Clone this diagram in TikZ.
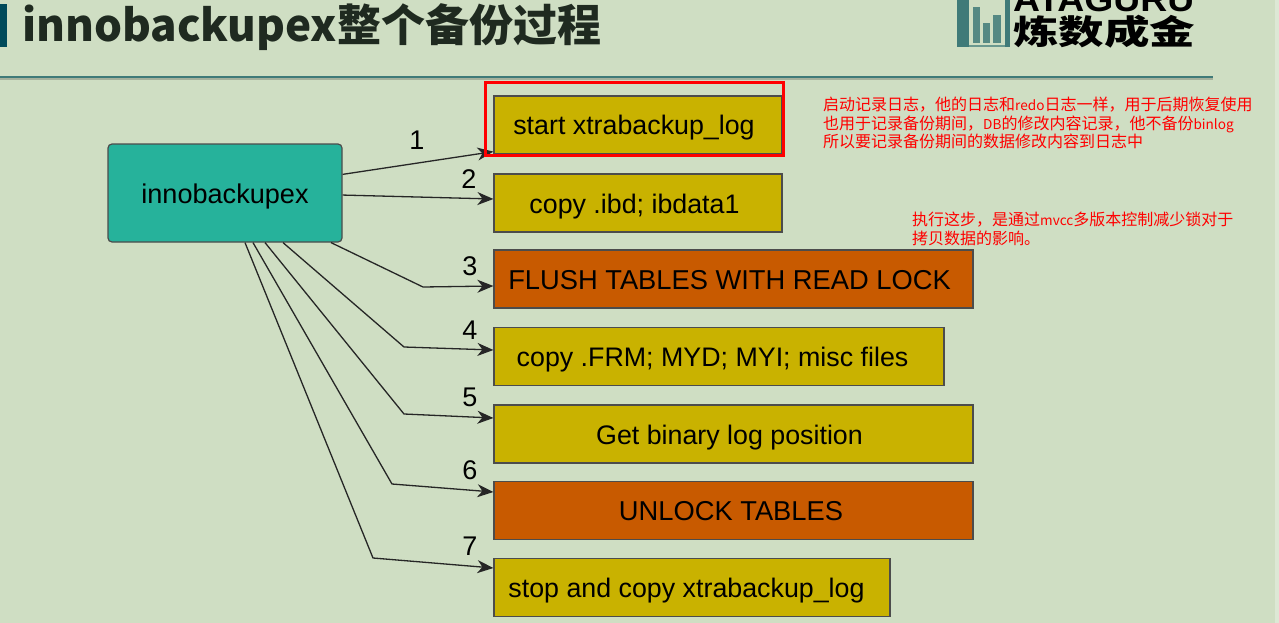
\documentclass[tikz,border=0pt]{standalone}
\usepackage{fontspec}
\setmainfont{Liberation Sans}
\newfontfamily\cjk{Noto Sans CJK SC}
\usetikzlibrary{
    arrows.meta,
    calc,
    positioning
}
\definecolor{slidebg}{HTML}{CFDEC3}
\definecolor{slideink}{HTML}{1F2A20}
\definecolor{ruleteal}{HTML}{3F7A78}
\definecolor{cornerteal}{HTML}{004A5A}
\definecolor{mainteal}{HTML}{26B29B}
\definecolor{yellowbox}{HTML}{C9B200}
\definecolor{orangebox}{HTML}{C85A00}
\newcommand{\latinbit}[1]{{\fontsize{13.6}{18.5}\selectfont #1}}
\tikzset{
    stepbox/.style={draw=black!70, line width=1.2pt, minimum height=58pt, inner sep=0pt,
        text height=24pt, text depth=4pt},
    yellowstep/.style={stepbox, fill=yellowbox, font=\fontsize{26.8}{30}\selectfont},
    orangestep/.style={stepbox, fill=orangebox, font=\fontsize{27.3}{30}\selectfont},
    numlabel/.style={font=\fontsize{27}{30}\selectfont, inner sep=0pt},
    note/.style={text=red, align=left, anchor=north west, inner sep=0pt,
        font=\cjk\fontsize{16}{18.5}\selectfont},
    link/.style={-{Stealth[length=16pt,width=13pt,inset=5pt]}, line width=1.3pt, black!85}
}

\begin{document}
\begin{tikzpicture}[x=1pt, y=-1pt]
    \useasboundingbox (0, 0) rectangle (1279, 623);
    \fill[slidebg] (0, 0) rectangle (1279, 623);
    \fill[slidebg!70!white] (1275, 0) rectangle (1279, 623);

    % title bar
    \fill[cornerteal] (0, 4) rectangle (7, 47);
    \node[anchor=west, inner sep=0pt, text=slideink, font=\cjk\bfseries\fontsize{44}{50}\selectfont] (title) at (22, 27) {innobackupex整个备份过程};
    \fill[black!20!slidebg] (0, 78) rectangle (1213, 80);
    \fill[ruleteal] (0, 76) rectangle (1213, 78);

    % logo
    \fill[ruleteal] (957, 0) rectangle (969, 47);
    \fill[ruleteal!85!slidebg] (973, 7) rectangle (980, 43);
    \fill[ruleteal!85!slidebg] (983, 23) rectangle (990, 43);
    \fill[ruleteal!85!slidebg] (993, 15) rectangle (1001, 43);
    \fill[ruleteal] (1005, 0) rectangle (1010, 47);
    \fill[ruleteal!70!slidebg] (969, 45) rectangle (1005, 47);
    \node[anchor=south west, inner sep=0pt, font=\bfseries] (logotop) at (1013, 12) {\resizebox{181pt}{24pt}{ATAGURU}};
    \node[anchor=west, inner sep=0pt, font=\cjk\bfseries\fontsize{45.5}{45.5}\selectfont] (logobot) at (1013, 31.5) {\scalebox{1}[0.74]{炼数成金}};

    % boxes
    \node[rectangle, rounded corners=4pt, draw=black!70, line width=1.2pt, fill=mainteal,
        minimum width=234pt, minimum height=98pt, text height=24pt, text depth=4pt,
        font=\fontsize{27.1}{30}\selectfont] (mainbox) at (225, 193) {innobackupex};

    \node[yellowstep, minimum width=288pt] (startlog) at (638, 125) {start xtrabackup\_log\kern8pt};
    \node[yellowstep, minimum width=288pt] (copyibd) at (638, 203) {copy .ibd; ibdata1\kern7pt};
    \node[orangestep, minimum width=479pt] (flush) at (733.5, 279) {FLUSH TABLES WITH READ LOCK\kern8pt};
    \node[yellowstep, minimum width=450pt] (copyfrm) at (719, 356.5) {copy .FRM; MYD; MYI; misc files\kern13pt};
    \node[yellowstep, minimum width=479pt] (binlog) at (733.5, 434) {Get binary log position\kern8pt};
    \node[orangestep, minimum width=479pt] (unlock) at (733.5, 510.5) {UNLOCK TABLES\kern5pt};
    \node[yellowstep, minimum width=396pt] (stopcopy) at (692, 587.5) {stop and copy xtrabackup\_log\kern11pt};

    % bends
    \coordinate (bendflush) at (423, 287);
    \coordinate (bendfrm) at (404, 347);
    \coordinate (bendlog) at (404, 414);
    \coordinate (bendunlock) at (392, 484);
    \coordinate (bendstop) at (373, 558);

    % connectors
    \draw[link] (mainbox.9.7) -- ([yshift=3pt]startlog.south west);
    \draw[link] (mainbox.-1.5) -- ([yshift=4pt]copyibd.west);
    \draw[link] ([xshift=106pt]mainbox.south) -- (bendflush) -- ([yshift=-7pt]flush.west);
    \draw[link] ([xshift=58pt]mainbox.south) -- (bendfrm) -- ([yshift=6.5pt]copyfrm.west);
    \draw[link] ([xshift=40pt]mainbox.south) -- (bendlog) -- ([yshift=16pt]binlog.west);
    \draw[link] ([xshift=28pt]mainbox.south) -- (bendunlock) -- ([yshift=18.5pt]unlock.west);
    \draw[link] ([xshift=20pt]mainbox.south) -- (bendstop) -- ([yshift=19.5pt]stopcopy.west);

    \node[numlabel] (numone) at (417, 140) {1};
    \node[numlabel] (numtwo) at (469, 179) {2};
    \node[numlabel] (numthree) at (470, 266) {3};
    \node[numlabel] (numfour) at (470, 330) {4};
    \node[numlabel] (numfive) at (470, 397) {5};
    \node[numlabel] (numsix) at (470, 470) {6};
    \node[numlabel] (numseven) at (470, 546) {7};

    % highlight
    \draw[red, line width=3pt] (485, 83) rectangle (783, 155);

    % notes
    \node[note] (noteone) at (823, 97) {启动记录日志，他的日志和\latinbit{redo}日志一样，用于后期恢复使用\\也用于记录备份期间，\latinbit{DB}的修改内容记录，他不备份\latinbit{binlog}\\所以要记录备份期间的数据修改内容到日志中};
    \node[note] (notetwo) at (912, 212) {执行这步，是通过\latinbit{mvcc}多版本控制减少锁对于\\拷贝数据的影响。};
\end{tikzpicture}
\end{document}
